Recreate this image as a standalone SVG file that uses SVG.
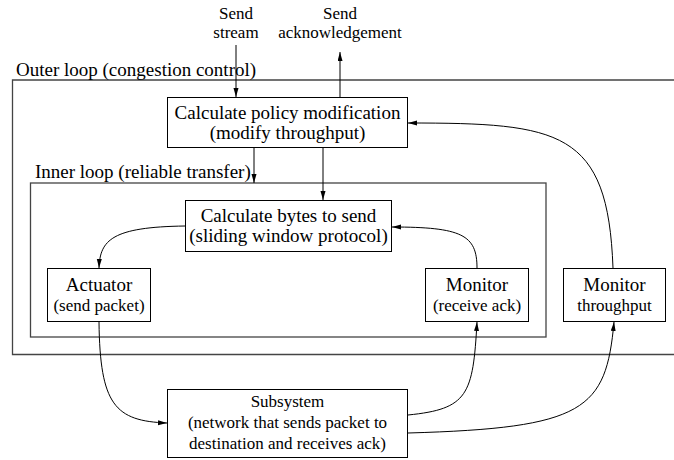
<svg xmlns="http://www.w3.org/2000/svg" width="674" height="460" viewBox="0 0 674 460">
<defs>
<marker id="ah" markerUnits="userSpaceOnUse" markerWidth="10" markerHeight="6" refX="9" refY="2.5" orient="auto">
<path d="M0,0 L9,2.5 L0,5 z" fill="#000"/>
</marker>
<style>
text{font-family:"Liberation Serif","Times New Roman",serif;fill:#000;text-anchor:middle}
.big{font-size:19px}
.sm{font-size:17px}
.lbl{text-anchor:start}
.box{fill:#fff;stroke:#000;stroke-width:1}
.loop{fill:none;stroke:#444;stroke-width:1.3}
.c{fill:none;stroke:#000;stroke-width:1;marker-end:url(#ah)}
</style>
</defs>
<rect width="674" height="460" fill="#fff"/>
<g id="outer-loop">
<path class="loop" d="M680,80 H12.5 V354.5 H680"/>
<text class="big lbl" x="16" y="76">Outer loop (congestion control)</text>
</g>
<g id="inner-loop">
<rect class="loop" x="30.5" y="183" width="515.5" height="154"/>
<text class="big lbl" x="35" y="178">Inner loop (reliable transfer)</text>
</g>
<g id="send-stream">
<text class="sm" x="236" y="18.5">Send</text>
<text class="sm" x="236" y="38">stream</text>
</g>
<g id="send-ack">
<text class="sm" x="340" y="18.5">Send</text>
<text class="sm" x="340" y="38">acknowledgement</text>
</g>
<g id="policy">
<rect class="box" x="167.5" y="97.5" width="240" height="50"/>
<text class="big" x="287.5" y="119">Calculate policy modification<tspan x="287.5" y="139">(modify throughput)</tspan></text>
</g>
<g id="bytes">
<rect class="box" x="185.5" y="200.5" width="206" height="51"/>
<text class="big" x="288.5" y="222">Calculate bytes to send<tspan x="288.5" y="242">(sliding window protocol)</tspan></text>
</g>
<g id="actuator">
<rect class="box" x="47.5" y="268.5" width="103" height="53"/>
<text class="big" x="99" y="291">Actuator<tspan class="sm" x="99" y="311">(send packet)</tspan></text>
</g>
<g id="monitor-ack">
<rect class="box" x="425.5" y="268.5" width="103" height="53"/>
<text class="big" x="477" y="291">Monitor<tspan class="sm" x="477" y="311">(receive ack)</tspan></text>
</g>
<g id="monitor-throughput">
<rect class="box" x="563.5" y="268.5" width="102" height="53"/>
<text class="big" x="614.5" y="291">Monitor<tspan class="sm" x="614.5" y="311">throughput</tspan></text>
</g>
<g id="subsystem">
<rect class="box" x="167.5" y="389.5" width="240" height="68"/>
<text class="sm" x="287.5" y="407">Subsystem<tspan x="287.5" y="428">(network that sends packet to</tspan><tspan x="287.5" y="449">destination and receives ack)</tspan></text>
</g>
<g id="connectors">
<path class="c" d="M236,45 V97"/>
<path class="c" d="M340,97 V52"/>
<path class="c" d="M254,148 V183"/>
<path class="c" d="M323,148 V200"/>
<path class="c" d="M185,226 C112,227 100,240 99,268"/>
<path class="c" d="M477,268 C477,235 462,227 392,227"/>
<path class="c" d="M99,322 C100,405 115,421 167,423"/>
<path class="c" d="M408,415 C468,409 473,395 477,322"/>
<path class="c" d="M408,433 C585,428 606,410 614,322"/>
<path class="c" d="M613,268 C608,130 560,123 408,123"/>
</g>
</svg>
